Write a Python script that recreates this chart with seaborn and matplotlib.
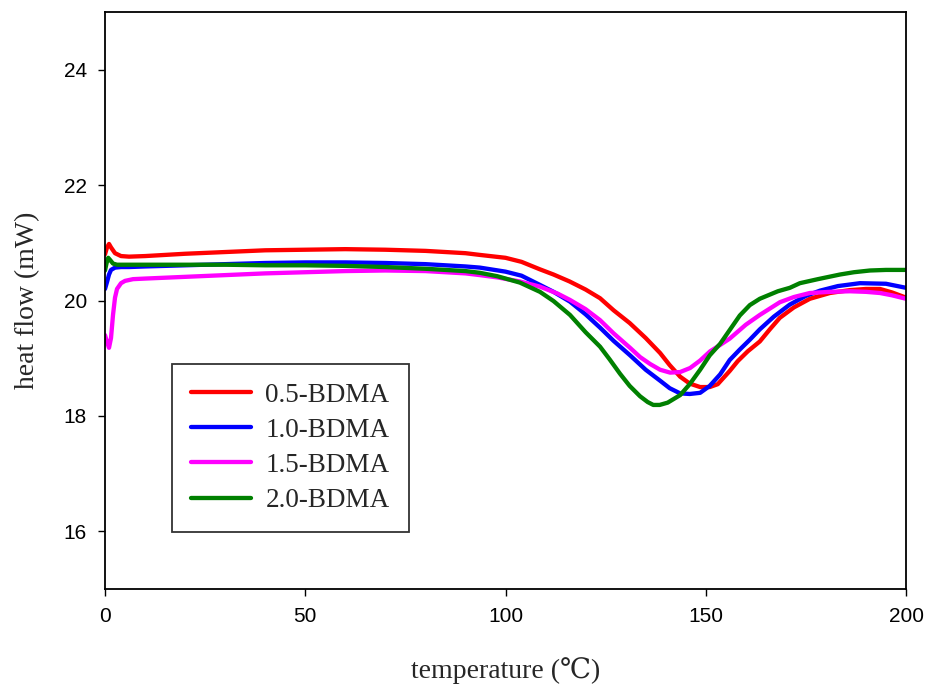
import matplotlib
matplotlib.use("Agg")
import matplotlib.pyplot as plt
import seaborn as sns
import pandas as pd

# ---- data ----
labels = ["0.5-BDMA", "1.0-BDMA", "1.5-BDMA", "2.0-BDMA"]
colors = ["#ff0000", "#0000ff", "#ff00ff", "#008000"]

x_05 = [0, 0.5, 1.0, 1.5, 2.5, 4, 6, 10, 20, 30, 40, 50, 60, 70, 80, 90, 93.6, 100, 104, 108.6, 112, 116, 120,
        123.6, 127, 131, 135, 138.6, 141, 143.6, 146, 148.6, 151, 153, 156, 158, 160.5, 163.5, 166, 168.5, 172,
        176, 181, 186, 190, 193.5, 196.5, 200]
y_05 = [20.80, 20.92, 20.98, 20.92, 20.82, 20.77, 20.76, 20.77, 20.81, 20.84, 20.87, 20.88, 20.89, 20.88, 20.86,
        20.82, 20.79, 20.74, 20.67, 20.54, 20.45, 20.33, 20.19, 20.04, 19.83, 19.61, 19.35, 19.09, 18.88, 18.68,
        18.56, 18.50, 18.50, 18.55, 18.78, 18.95, 19.12, 19.29, 19.50, 19.70, 19.88, 20.03, 20.13, 20.18, 20.20,
        20.20, 20.14, 20.05]

x_10 = [0, 0.5, 1, 1.5, 2.5, 4, 6, 10, 20, 30, 40, 50, 60, 70, 80, 90, 93.6, 100, 104, 108.6, 112, 116.1, 120,
        123.6, 127, 131.1, 135, 138.6, 141, 143.6, 146, 148.6, 151, 153.6, 156, 158.5, 161, 163.5, 167, 171, 175,
        178.5, 183, 188.5, 195, 200]
y_10 = [20.20, 20.32, 20.45, 20.53, 20.57, 20.58, 20.58, 20.59, 20.61, 20.63, 20.65, 20.66, 20.66, 20.65, 20.63,
        20.59, 20.57, 20.50, 20.43, 20.27, 20.15, 19.98, 19.76, 19.53, 19.30, 19.05, 18.80, 18.61, 18.48, 18.39,
        18.38, 18.40, 18.52, 18.72, 18.97, 19.15, 19.32, 19.50, 19.72, 19.93, 20.08, 20.17, 20.25, 20.30, 20.29,
        20.22]

x_15 = [0, 0.5, 1, 1.5, 2, 2.5, 3, 4, 5, 7, 10, 20, 30, 40, 50, 60, 70, 80, 90, 93.6, 98, 103.6, 108.6, 113,
        116.1, 120, 123.6, 127, 131.1, 133.6, 136.1, 138.6, 141.1, 143.6, 146.1, 148.6, 151.1, 153.6, 156, 160,
        163.5, 168.5, 172, 176, 181, 186, 190, 193.5, 196.5, 200]
y_15 = [19.40, 19.28, 19.18, 19.35, 19.75, 20.05, 20.20, 20.30, 20.34, 20.37, 20.38, 20.41, 20.44, 20.47, 20.49,
        20.51, 20.52, 20.51, 20.47, 20.44, 20.40, 20.33, 20.24, 20.12, 20.01, 19.85, 19.66, 19.43, 19.18, 19.02,
        18.90, 18.80, 18.75, 18.76, 18.83, 18.96, 19.12, 19.23, 19.34, 19.58, 19.75, 19.97, 20.06, 20.13, 20.15,
        20.16, 20.15, 20.13, 20.09, 20.03]

x_20 = [0, 0.4, 0.8, 1.3, 2, 3, 5, 10, 20, 30, 40, 50, 60, 70, 80, 90, 93.6, 98, 103.6, 108.6, 112, 116.1, 120,
        123.6, 126, 128.6, 131, 133.6, 135.5, 136.9, 138.5, 140.5, 143.6, 146, 148.6, 151, 153.6, 156, 158.5, 161,
        163.5, 168, 171, 173.5, 178, 183.5, 187, 191, 195, 200]
y_20 = [20.52, 20.65, 20.74, 20.70, 20.64, 20.62, 20.62, 20.62, 20.62, 20.62, 20.61, 20.61, 20.60, 20.58, 20.55,
        20.51, 20.48, 20.42, 20.31, 20.15, 19.99, 19.75, 19.45, 19.20, 18.98, 18.73, 18.52, 18.34, 18.24, 18.19,
        18.19, 18.23, 18.36, 18.55, 18.80, 19.05, 19.25, 19.49, 19.74, 19.92, 20.03, 20.16, 20.22, 20.30, 20.37,
        20.45, 20.49, 20.52, 20.53, 20.53]

xs = [x_05, x_10, x_15, x_20]
ys = [y_05, y_10, y_15, y_20]

x_ticks = [0, 50, 100, 150, 200]
y_ticks = [16, 18, 20, 22, 24]

frames = []
for lab, xv, yv in zip(labels, xs, ys):
    frames.append(pd.DataFrame({"temperature": xv, "heat": yv, "sample": lab}))
df = pd.concat(frames, ignore_index=True)

sns.set_style("ticks")
plt.rcParams["font.family"] = ["Liberation Sans", "DejaVu Sans"]

fig = plt.figure(figsize=(9.28, 6.90), dpi=100)
ax = fig.add_axes([105 / 928, 1 - 589 / 690, 801 / 928, 577 / 690])

sns.lineplot(data=df, x="temperature", y="heat", hue="sample", hue_order=labels,
             palette=dict(zip(labels, colors)), sort=False, estimator=None,
             linewidth=3.1, ax=ax, legend=False)
for ln in ax.get_lines():
    ln.set_solid_joinstyle("round")
    ln.set_solid_capstyle("round")

ax.set_xlim(0, 200)
ax.set_ylim(15, 25)
ax.set_xticks(x_ticks)
ax.set_yticks(y_ticks)
ax.tick_params(axis="both", direction="out", length=5, width=1.0, labelsize=15,
               top=False, right=False, colors="black", pad=8)
for sp in ax.spines.values():
    sp.set_visible(True)
    sp.set_linewidth(1.3)
    sp.set_color("black")

serif = ["Liberation Serif", "DejaVu Serif", "Noto Sans CJK SC"]
ax.set_xlabel("temperature (℃)", fontsize=20, family=serif, labelpad=22)
ax.set_ylabel("heat flow (mW)", fontsize=20, family=serif, labelpad=17)

from matplotlib.lines import Line2D
handles = [Line2D([0], [0], color=c, lw=3.1) for c in colors]
leg = ax.legend(handles, labels, loc="upper left", bbox_to_anchor=(0.0836, 0.39),
                borderaxespad=0, frameon=True, fancybox=False, edgecolor="black",
                prop={"family": serif, "size": 19.5}, handlelength=2.2, handletextpad=0.55,
                labelspacing=0.37, borderpad=0.7)
leg.get_frame().set_linewidth(1.3)

fig.savefig("out.png", dpi=100)
